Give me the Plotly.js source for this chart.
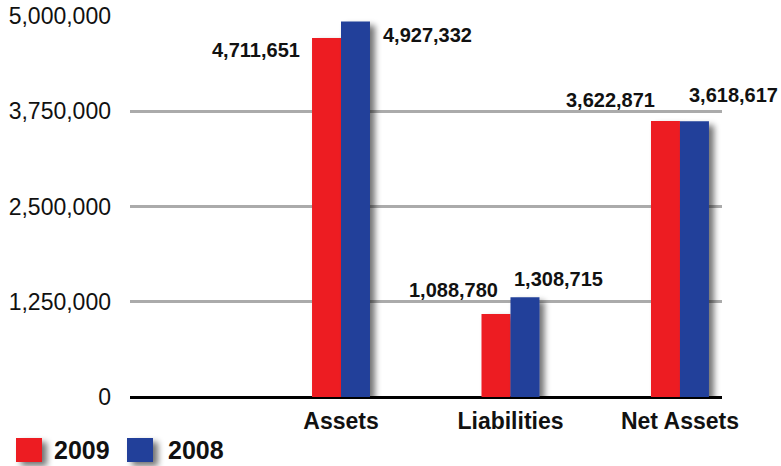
<!DOCTYPE html>
<html>
<head>
<meta charset="utf-8">
<script src="https://cdn.plot.ly/plotly-3.0.1.min.js"></script>
<style>
  html, body { margin: 0; padding: 0; background: #fff; }
  #chart { width: 781px; height: 466px; }
  .trace.bars .point path { filter: url(#dropShadow); }
  .shapelayer path { filter: url(#dropShadow); }
</style>
</head>
<body>
<svg width="0" height="0" style="position:absolute">
  <defs>
    <filter id="dropShadow" x="-50%" y="-50%" width="200%" height="200%">
      <feGaussianBlur in="SourceAlpha" stdDeviation="3"/>
      <feOffset dx="5" dy="4" result="off"/>
      <feComponentTransfer><feFuncA type="linear" slope="0.55"/></feComponentTransfer>
      <feMerge><feMergeNode/><feMergeNode in="SourceGraphic"/></feMerge>
    </filter>
  </defs>
</svg>
<div id="chart"></div>
<script>
const categories = ["Assets", "Liabilities", "Net Assets"];
const values2009 = [4711651, 1088780, 3622871];
const values2008 = [4927332, 1308715, 3618617];
const seriesNames = ["2009", "2008"];
const yTicks = [0, 1250000, 2500000, 3750000, 5000000];

const RED = "#ED1C24";
const BLUE = "#22409A";
const FONT = "Liberation Sans, Arial, Helvetica, sans-serif";

const traces = [
  { type: "bar", name: seriesNames[0], x: categories, y: values2009, marker: { color: RED }, hoverinfo: "x+y" },
  { type: "bar", name: seriesNames[1], x: categories, y: values2008, marker: { color: BLUE }, hoverinfo: "x+y" }
];

const fmt = v => v.toLocaleString("en-US");
// label offsets (pixels) per category for each series
const off2009 = [[-39, -12], [-10, 24], [-23, 21]];
const off2008 = [[40, -13], [2, 18], [7, 26]];
const annotations = [];
categories.forEach((c, i) => {
  annotations.push({ x: c, y: values2009[i], xref: "x", yref: "y", text: "<b>" + fmt(values2009[i]) + "</b>",
    showarrow: false, xanchor: "right", yanchor: "middle", xshift: off2009[i][0], yshift: off2009[i][1],
    font: { family: FONT, size: 20, color: "#111" } });
  annotations.push({ x: c, y: values2008[i], xref: "x", yref: "y", text: "<b>" + fmt(values2008[i]) + "</b>",
    showarrow: false, xanchor: "left", yanchor: "middle", xshift: off2008[i][0], yshift: off2008[i][1],
    font: { family: FONT, size: 20, color: "#111" } });
});
// legend texts
annotations.push({ xref: "paper", yref: "paper", x: -0.1318, y: -0.139, text: "<b>" + seriesNames[0] + "</b>",
  showarrow: false, xanchor: "left", yanchor: "middle", font: { family: FONT, size: 25, color: "#111" } });
annotations.push({ xref: "paper", yref: "paper", x: 0.0608, y: -0.139, text: "<b>" + seriesNames[1] + "</b>",
  showarrow: false, xanchor: "left", yanchor: "middle", font: { family: FONT, size: 25, color: "#111" } });

const shapes = [
  { type: "rect", xref: "paper", yref: "paper", x0: -0.1926, x1: -0.1486, y0: -0.1706, y1: -0.1076,
    fillcolor: RED, line: { width: 0 } },
  { type: "rect", xref: "paper", yref: "paper", x0: -0.0051, x1: 0.0389, y0: -0.1706, y1: -0.1076,
    fillcolor: BLUE, line: { width: 0 } }
];

const layout = {
  width: 781, height: 466,
  margin: { l: 130, r: 59, t: 16, b: 69 },
  paper_bgcolor: "#fff", plot_bgcolor: "#fff",
  showlegend: false,
  barmode: "group", bargap: 0.658, bargroupgap: 0,
  font: { family: FONT, color: "#111" },
  xaxis: {
    type: "category", range: [-1.245, 2.248], showgrid: false, zeroline: false, showline: false,
    ticks: "", ticklabelstandoff: 8, tickfont: { family: FONT, size: 23, color: "#111" },
    tickvals: categories, ticktext: categories.map(c => "<b>" + c + "</b>"), fixedrange: true
  },
  yaxis: {
    range: [0, 5000000], tickvals: yTicks, ticktext: yTicks.map(fmt),
    showgrid: true, gridcolor: "#ababab", gridwidth: 3,
    zeroline: true, zerolinecolor: "#000", zerolinewidth: 3,
    showline: false, ticks: "", ticklabelstandoff: 18,
    tickfont: { family: FONT, size: 23, color: "#111" }, fixedrange: true
  },
  annotations: annotations,
  shapes: shapes
};

Plotly.newPlot("chart", traces, layout, { displayModeBar: false, staticPlot: true });
</script>
</body>
</html>
